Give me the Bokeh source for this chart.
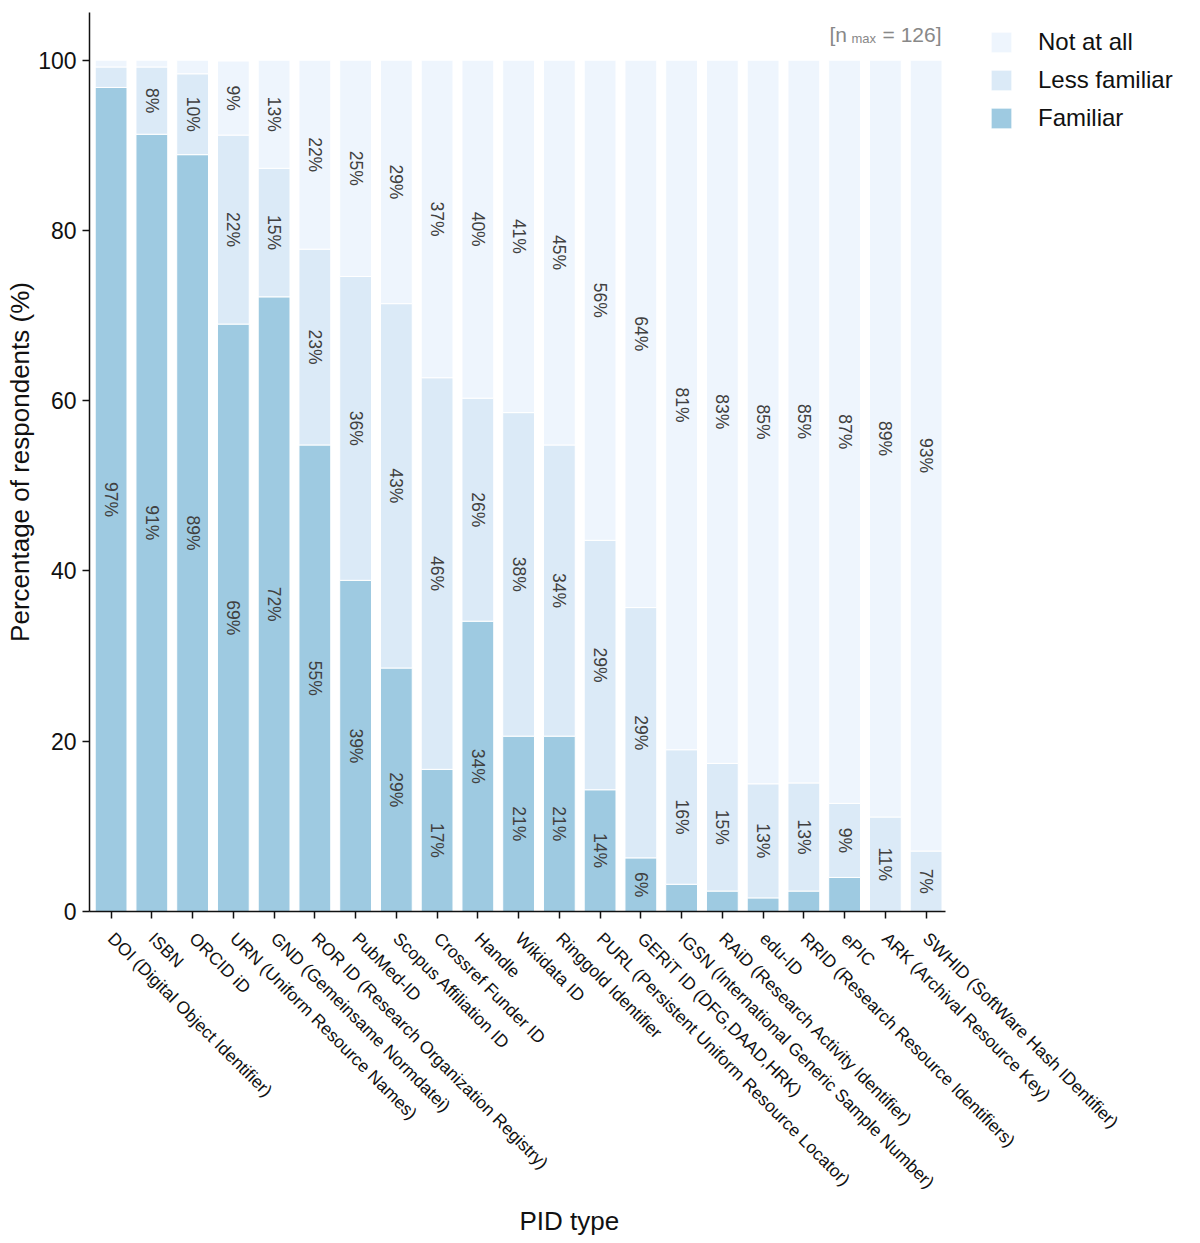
import math
from bokeh.plotting import figure
from bokeh.models import (ColumnDataSource, FixedTicker, Legend, LegendItem, Label, Range1d, Title)
from bokeh.core.properties import value
from bokeh.embed import file_html
from bokeh.resources import INLINE

pid_types = [
    "DOI (Digital Object Identifier)", "ISBN", "ORCID iD", "URN (Uniform Resource Names)",
    "GND (Gemeinsame Normdatei)", "ROR ID (Research Organization Registry)", "PubMed-ID",
    "Scopus Affiliation ID", "Crossref Funder ID", "Handle", "Wikidata ID", "Ringgold Identifier",
    "PURL (Persistent Uniform Resource Locator)", "GERiT ID (DFG,DAAD,HRK)",
    "IGSN (International Generic Sample Number)", "RAiD (Research Activity Identifier)",
    "edu-ID", "RRID (Research Resource Identifiers)", "ePIC", "ARK (Archival Resource Key)",
    "SWHID (SoftWare Hash IDentifier)",
]
familiar = [96.8, 91.3, 88.9, 69.0, 72.2, 54.8, 38.9, 28.6, 16.7, 34.1, 20.6, 20.6,
            14.3, 6.3, 3.2, 2.4, 1.6, 2.4, 4.0, 0.0, 0.0]
less_familiar = [2.4, 7.9, 9.5, 22.2, 15.1, 23.0, 35.7, 42.8, 46.0, 26.2, 38.0, 34.2,
                 29.3, 29.4, 15.8, 15.0, 13.4, 12.7, 8.7, 11.1, 7.1]
not_at_all = [0.8, 0.8, 1.6, 8.7, 12.7, 22.2, 25.4, 28.6, 37.3, 39.7, 41.4, 45.2,
              56.4, 64.3, 81.0, 82.6, 85.0, 84.9, 87.3, 88.9, 92.9]
series_names = ["Familiar", "Less familiar", "Not at all"]
series_colors = ["#9ecae1", "#dbeaf7", "#eef5fd"]
y_ticks = [0, 20, 40, 60, 80, 100]
n_max = 126

FONT = "Liberation Sans"
xs = list(range(len(pid_types)))

src = ColumnDataSource(dict(x=xs, fam=familiar, less=less_familiar, notat=not_at_all))

# frame extends to the right edge so that legend / annotations are not clipped;
# the x axis itself is bounded to the bar area
p = figure(frame_width=1103, frame_height=899, output_backend="svg", toolbar_location=None,
           x_range=Range1d(-0.53, 26.537), y_range=Range1d(0, 105.6),
           min_border_left=89, min_border_right=0, min_border_top=12, min_border_bottom=300)
p.outline_line_color = None
p.xgrid.visible = False
p.ygrid.visible = False

rs = p.vbar_stack(["fam", "less", "notat"], x="x", width=0.78, source=src,
                  color=series_colors, line_color="white", line_width=1)

# segment labels
lx, ly, lt = [], [], []
for i in xs:
    base = 0.0
    for v in (familiar[i], less_familiar[i], not_at_all[i]):
        if round(v) >= 5:
            lx.append(i)
            ly.append(base + v / 2)
            lt.append(f"{round(v)}%")
        base += v
p.text(x=lx, y=ly, text=lt, angle=-math.pi / 2, text_align="center", text_baseline="middle",
       text_font=value(FONT), text_font_size="17.5px", text_color="#404040")

# axes
for ax in (p.xaxis[0], p.yaxis[0]):
    ax.axis_line_width = 1.5
    ax.axis_line_color = "#111111"
    ax.major_tick_line_color = "#111111"
    ax.major_tick_line_width = 1.5
    ax.major_tick_out = 7
    ax.major_tick_in = 0
    ax.minor_tick_line_color = None
    ax.major_label_text_font = FONT
    ax.axis_label_text_font = FONT
    ax.axis_label_text_font_style = "normal"
    ax.major_label_text_color = "#111111"
    ax.axis_label_text_color = "#111111"

p.xaxis.bounds = (-0.53, 20.47)
p.xaxis.ticker = FixedTicker(ticks=xs)
p.xaxis.major_label_overrides = {i: n for i, n in enumerate(pid_types)}
p.xaxis.major_label_orientation = -math.pi / 4
p.xaxis.major_label_text_font_size = "17.5px"
p.xaxis.major_label_standoff = 17

p.yaxis.ticker = FixedTicker(ticks=y_ticks)
p.yaxis.major_label_text_font_size = "23px"
p.yaxis.major_label_standoff = 6
p.yaxis.axis_label = "Percentage of respondents (%)"
p.yaxis.axis_label_text_font_size = "26px"
p.yaxis.axis_label_standoff = 0

# x axis title, placed below the tick labels
p.add_layout(Title(text="PID type", align="left", offset=430, text_font=FONT,
                   text_font_size="26px", text_font_style="normal", text_color="#111111",
                   standoff=2), "below")

# n max annotation (frame-relative screen units)
p.add_layout(Label(x=740, y=877, x_units="screen", y_units="screen", text="[n",
                   text_font=FONT, text_font_size="21px", text_color="#888888",
                   text_align="left", text_baseline="alphabetic"))
p.add_layout(Label(x=762, y=873.5, x_units="screen", y_units="screen", text="max",
                   text_font=FONT, text_font_size="13px", text_color="#888888",
                   text_align="left", text_baseline="alphabetic"))
p.add_layout(Label(x=852, y=877, x_units="screen", y_units="screen", text=f"= {n_max}]",
                   text_font=FONT, text_font_size="21px", text_color="#888888",
                   text_align="right", text_baseline="alphabetic"))

# legend (reverse order), right of the bars
items = [LegendItem(label=series_names[k], renderers=[rs[k]]) for k in (2, 1, 0)]
legend = Legend(items=items, location=(899, 779), orientation="vertical",
                glyph_width=26, glyph_height=26, label_height=28, label_standoff=24,
                spacing=10, padding=0, margin=0,
                label_text_font=FONT, label_text_font_size="24px", label_text_color="#111111",
                border_line_color=None, background_fill_alpha=0)
p.add_layout(legend, "center")

open("out.html", "w").write(file_html(p, INLINE))
